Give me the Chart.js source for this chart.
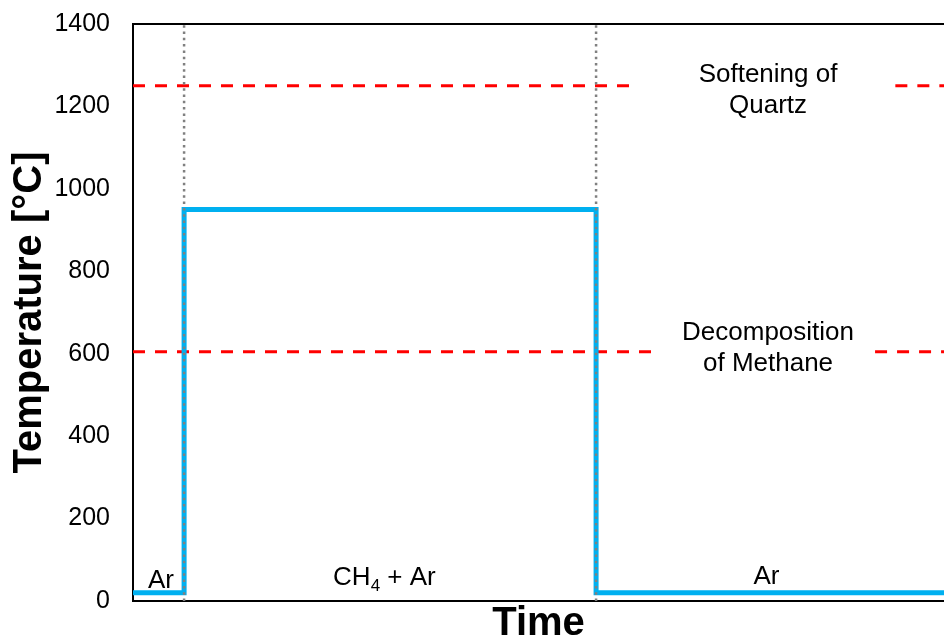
<!DOCTYPE html>
<html>
<head>
<meta charset="utf-8">
<script src="https://cdn.jsdelivr.net/npm/chart.js@4.4.0/dist/chart.umd.min.js"></script>
<style>
  body { margin: 0; background: #fff; }
  #wrap { width: 944px; height: 636px; }
</style>
</head>
<body>
<div id="wrap"><canvas id="myChart"></canvas></div>
<script>
// temperature program (time in arbitrary units, 0-100)
const stepTime = [0, 6.3, 6.3, 57.1, 57.1, 100];
const stepTemp = [20, 20, 950, 950, 20, 20];

// phase switch times (gray dotted lines)
const switchTimes = [6.3, 57.1];

// limit lines, with a gap left for the label
const limitTemps = [1250, 605];
const limitGaps = [[62.3, 94.0], [65.0, 91.5]];
const limitLabels = [['Softening of', 'Quartz'], ['Decomposition', 'of Methane']];

const yMin = 0, yMax = 1400, yStep = 200;
const xMin = 0, xMax = 100;

const FONT = '"Liberation Sans", Arial, sans-serif';

function limitData(t, gap) {
    return [
        {x: xMin, y: t},
        {x: gap[0], y: t},
        {x: (gap[0] + gap[1]) / 2, y: null},
        {x: gap[1], y: t},
        {x: xMax, y: t}
    ];
}

const datasets = [];
switchTimes.forEach(t => {
    datasets.push({
        data: [{x: t, y: yMin}, {x: t, y: yMax}],
        borderColor: '#808080',
        borderWidth: 2.5,
        borderDash: [2.5, 3.8],
        pointRadius: 0,
        order: 0
    });
});
datasets.push({
    data: stepTime.map((t, i) => ({x: t, y: stepTemp[i]})),
    borderColor: '#00B0F0',
    borderWidth: 5,
    pointRadius: 0,
    order: 1
});
limitTemps.forEach((t, i) => {
    datasets.push({
        data: limitData(t, limitGaps[i]),
        borderColor: '#FF0000',
        borderWidth: 3,
        borderDash: [12, 10],
        pointRadius: 0,
        spanGaps: false,
        order: 2
    });
});

// text inside the plot
const notes = {
    id: 'notes',
    afterDatasetsDraw(chart) {
        const c = chart.ctx;
        const x = chart.scales.x;
        c.save();
        c.fillStyle = '#000';
        c.textAlign = 'center';
        c.textBaseline = 'alphabetic';
        c.font = '26px ' + FONT;

        // limit labels
        const cx = x.getPixelForValue(78.3);
        c.fillText(limitLabels[0][0], cx, 81.7);
        c.fillText(limitLabels[0][1], cx, 113);
        c.fillText(limitLabels[1][0], cx, 340);
        c.fillText(limitLabels[1][1], cx, 371);

        // phase labels
        c.fillText('Ar', x.getPixelForValue(3.45), 588);
        c.fillText('Ar', x.getPixelForValue(78.1), 584);

        // CH4 + Ar with subscript
        const a = 'CH', sub = '4', b = ' + Ar';
        c.font = '26px ' + FONT;
        const wa = c.measureText(a).width, wb = c.measureText(b).width;
        c.font = '17px ' + FONT;
        const ws = c.measureText(sub).width;
        let px = x.getPixelForValue(31.0) - (wa + ws + wb) / 2;
        c.textAlign = 'left';
        c.font = '26px ' + FONT;
        c.fillText(a, px, 585);
        c.font = '17px ' + FONT;
        c.fillText(sub, px + wa, 591);
        c.font = '26px ' + FONT;
        c.fillText(b, px + wa + ws, 585);
        c.restore();
    }
};

const ctx = document.getElementById('myChart').getContext('2d');
const myChart = new Chart(ctx, {
    type: 'line',
    data: { datasets: datasets },
    plugins: [notes],
    options: {
        responsive: true,
        maintainAspectRatio: false,
        animation: false,
        devicePixelRatio: 1,
        layout: { padding: { top: 24, right: 0, left: 0, bottom: 0 } },
        plugins: { legend: { display: false }, tooltip: { enabled: false } },
        scales: {
            x: {
                type: 'linear',
                min: xMin,
                max: xMax,
                grid: { display: false },
                border: { display: true, color: '#000', width: 2 },
                ticks: { display: false },
                title: {
                    display: true,
                    text: 'Time',
                    color: '#000',
                    font: { family: FONT, size: 40, weight: 'bold', lineHeight: 1 },
                    padding: { top: 0, bottom: -8 }
                },
                afterFit(s) { s.height = 35; s.paddingLeft = 0; s.paddingRight = 0; }
            },
            y: {
                min: yMin,
                max: yMax,
                ticks: {
                    stepSize: yStep,
                    color: '#000',
                    padding: 23,
                    font: { family: FONT, size: 25 },
                    callback: v => String(v)
                },
                grid: {
                    drawTicks: false,
                    lineWidth: 2,
                    color: c => (c.tick && c.tick.value === yMax) ? '#000' : 'rgba(0,0,0,0)'
                },
                border: { display: true, color: '#000', width: 2 },
                title: {
                    display: true,
                    text: 'Temperature [°C]',
                    color: '#000',
                    font: { family: FONT, size: 40, weight: 'bold', lineHeight: 1 },
                    padding: { top: 10, bottom: 0 }
                },
                afterFit(s) { s.width = 133; s.paddingTop = 0; s.paddingBottom = 0; }
            }
        }
    }
});
</script>
</body>
</html>
